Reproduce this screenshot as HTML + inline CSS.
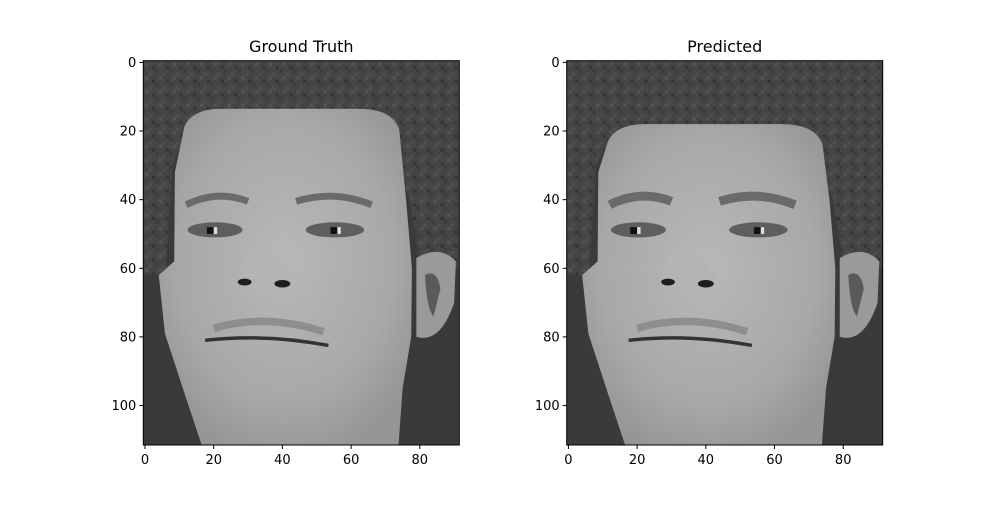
<!DOCTYPE html>
<html><head><meta charset="utf-8"><style>
body{margin:0;background:#fff;font-family:"Liberation Sans","DejaVu Sans",sans-serif;}
</style></head><body>
<svg id="fig" width="1000" height="500" xmlns="http://www.w3.org/2000/svg" font-family="DejaVu Sans, Liberation Sans, sans-serif">
<defs>
<radialGradient id="skin" cx="0.5" cy="0.45" r="0.6">
<stop offset="0" stop-color="#b8b8b8"/><stop offset="0.7" stop-color="#a8a8a8"/><stop offset="1" stop-color="#969696"/></radialGradient>
<pattern id="hairtex" width="4" height="4" patternUnits="userSpaceOnUse">
<rect width="4" height="4" fill="#454545"/><rect width="1" height="1" fill="#535353"/><rect x="2" y="1" width="1" height="1" fill="#363636"/><rect x="1" y="3" width="1" height="1" fill="#4e4e4e"/><rect x="3" y="2" width="1" height="1" fill="#3c3c3c"/></pattern>
</defs>
<rect width="1000" height="500" fill="#fff"/>
</svg>
<script>
const panels=[{title:"Ground Truth",x0:143.3,x1:459.3,pred:false},{title:"Predicted",x0:566.7,x1:882.7,pred:true}];
const xTicks=[0,20,40,60,80];
const yTicks=[0,20,40,60,80,100];
const nCols=92, nRows=112;
const y0=60.7,y1=445;
const NS="http://www.w3.org/2000/svg";
const fig=document.getElementById('fig');
function mk(t,a,p){const e=document.createElementNS(NS,t);for(const k in a)e.setAttribute(k,a[k]);(p||fig).appendChild(e);return e;}
panels.forEach((P,i)=>{
 const sx=(P.x1-P.x0)/nCols, sy=(y1-y0)/nRows;
 const X=v=>P.x0+(v+0.5)*sx, Y=v=>y0+(v+0.5)*sy;
 const g=mk('g',{transform:`translate(${P.x0},${y0}) scale(${sx},${sy}) translate(0.5,0.5)`});
 
 
 const ft=P.pred?18:13.5;
 g.innerHTML=`
 <rect x="-0.5" y="-0.5" width="92" height="112" fill="#3a3a3a"/>
 <path d="M-0.5,-0.5 H91.5 V60 L80,58 L77,40 Q70,${ft} 40,${ft} Q12,${ft} 8,30 L6,62 L-0.5,62 Z" fill="url(#hairtex)"/>
 <path d="M79,57 Q86,53 90.5,58 L90,70 Q86,82 79,80 Z" fill="#9a9a9a"/>
 <path d="M81.5,62 Q85,60 86,66 L84,74 Q82,72 81.5,62Z" fill="#5a5a5a"/>
 <path d="M11.5,${ft+5} Q14,${ft} 22,${ft} L62,${ft} Q72,${ft} 74,${ft+6} L76,40 L77.7,60 L77.5,80 L75,95 L73.8,111.5 L16.5,111.5 L12,98 L5.8,79 L4,62 L8.5,58 L8.7,32 Z" fill="url(#skin)"/>
 <path d="M12,41.5 Q21,37 30,40.5" stroke="#6a6a6a" stroke-width="${P.pred?2.6:2}" fill="none"/>
 <path d="M44,40.5 Q55,37 66,41.5" stroke="#6a6a6a" stroke-width="${P.pred?2.6:2}" fill="none"/>
 <ellipse cx="20.4" cy="48.8" rx="8" ry="2.2" fill="#5e5e5e"/>
 <ellipse cx="55.3" cy="48.8" rx="8.5" ry="2.2" fill="#5e5e5e"/>
 <rect x="18" y="48" width="2" height="2" fill="#111"/><rect x="20" y="48" width="1" height="2" fill="#ddd"/>
 <rect x="54" y="48" width="2" height="2" fill="#111"/><rect x="56" y="48" width="1" height="2" fill="#ddd"/>
 <path d="M30,55 Q33,50 37,55 L43,62 Q44,66 40,67 L28,66 Q26,62 30,55Z" fill="#b4b4b4"/>
 <ellipse cx="29" cy="64" rx="2" ry="1" fill="#1e1e1e"/>
 <ellipse cx="40" cy="64.5" rx="2.3" ry="1.1" fill="#1e1e1e"/>
 <path d="M20,77.5 Q35,73 52,78.5" stroke="#8e8e8e" stroke-width="2.2" fill="none"/>
 <path d="M17.5,81 Q35,79 53.4,82.5" stroke="#333" stroke-width="1" fill="none"/>`;
 const fr=mk('rect',{x:P.x0,y:y0,width:P.x1-P.x0,height:y1-y0,fill:'none',stroke:'#000','stroke-width':1});
 
 
 const t=mk('text',{x:(P.x0+P.x1)/2,y:52,'text-anchor':'middle','font-size':16,fill:'#000'});
 t.textContent=P.title;
 
 
 xTicks.forEach(v=>{
  const l=mk('line',{x1:X(v),x2:X(v),y1:y1,y2:y1+4,stroke:'#000'});
  
  
  const tx=mk('text',{x:X(v),y:y1+19,'text-anchor':'middle','font-size':13,fill:'#000'});
  tx.textContent=v;
  
  
 });
 yTicks.forEach(v=>{
  const l=mk('line',{x1:P.x0-4,x2:P.x0,y1:Y(v),y2:Y(v),stroke:'#000'});
  
  
  const tx=mk('text',{x:P.x0-7,y:Y(v)+4.5,'text-anchor':'end','font-size':13,fill:'#000'});
  tx.textContent=v;
  
  
 });
});
</script>
</body></html>
